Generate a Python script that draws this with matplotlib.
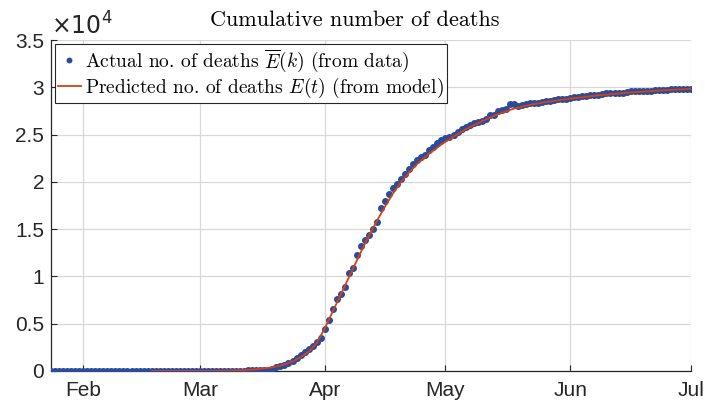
import matplotlib
matplotlib.use("Agg")
import matplotlib.pyplot as plt
import matplotlib.dates as mdates
from matplotlib.ticker import FuncFormatter
import numpy as np
import pandas as pd

plt.rcParams['mathtext.fontset'] = 'cm'
plt.rcParams['font.family'] = ['Liberation Sans', 'DejaVu Sans']

# daily cumulative deaths, 24 Jan 2020 .. 1 Jul 2020
start_date = '2020-01-24'
deaths_jan_feb = [0, 0, 0, 0, 0, 0, 0, 0,
                  0, 0, 0, 0, 0, 0, 0, 0, 0, 0, 0, 0, 0, 0,
                  1, 1, 1, 1, 1, 1, 1, 1, 1, 1, 1, 2, 2, 2, 2]
deaths_mar = [2, 3, 4, 4, 6, 9, 11, 19, 19, 33, 48, 48, 79, 91, 91, 149,
              149, 149, 244, 451, 563, 676, 862, 1102, 1333, 1698, 1997,
              2317, 2611, 3030, 3532]
deaths_apr = [4414, 5398, 6520, 7574, 8093, 8926, 10343, 10887, 12228, 13215,
              13851, 14412, 14986, 15748, 17188, 17941, 18703, 19345, 19744,
              20292, 20829, 21373, 21889, 22278, 22648, 22890, 23327, 23694,
              24121, 24410]
deaths_may = [24628, 24794, 24929, 25236, 25568, 25846, 26026, 26271, 26351,
              26421, 26684, 27032, 27115, 27466, 27570, 27667, 28239, 28242,
              28025, 28135, 28218, 28289, 28332, 28367, 28432, 28533, 28599,
              28665, 28714, 28771, 28802]
deaths_jun = [28836, 28943, 29024, 29068, 29114, 29145, 29158, 29213, 29322,
              29349, 29377, 29407, 29410, 29439, 29550, 29578, 29606, 29617,
              29636, 29640, 29643, 29666, 29702, 29733, 29755, 29781, 29781,
              29787, 29816, 29846]
deaths_jul = [29864]

# model curve
model_dates = ['2020-02-18', '2020-03-01', '2020-03-08', '2020-03-12', '2020-03-15',
               '2020-03-18', '2020-03-20', '2020-03-22', '2020-03-24', '2020-03-26',
               '2020-03-28', '2020-03-30', '2020-04-01', '2020-04-02', '2020-04-04',
               '2020-04-06', '2020-04-08', '2020-04-10', '2020-04-12', '2020-04-14',
               '2020-04-16', '2020-04-18', '2020-04-20', '2020-04-22', '2020-04-24',
               '2020-04-27', '2020-04-30', '2020-05-03', '2020-05-06', '2020-05-10',
               '2020-05-14', '2020-05-18', '2020-05-22', '2020-05-26', '2020-06-01',
               '2020-06-08', '2020-06-15', '2020-06-22', '2020-07-01']
model_vals = [0, 5, 40, 100, 190, 330, 480, 690, 1000, 1450, 2050, 2950, 4500,
              5400, 7200, 9000, 10800, 12600, 14300, 15900, 17400, 18800, 20000,
              21000, 21900, 23000, 23950, 24800, 25550, 26400, 27150, 27750,
              28150, 28450, 28800, 29150, 29420, 29630, 29830]

month_ticks = ['2020-02-01', '2020-03-01', '2020-04-01', '2020-05-01',
               '2020-06-01', '2020-07-01']

deaths = deaths_jan_feb + deaths_mar + deaths_apr + deaths_may + deaths_jun + deaths_jul
dates = pd.date_range(start_date, periods=len(deaths), freq='D')
mdt = pd.to_datetime(model_dates)

fig = plt.figure(figsize=(7.05, 4.09), dpi=100)
ax = fig.add_axes([51/705, 38/409, 640/705, 331/409])

ax.plot(dates, deaths, ls='none', marker='o', ms=4.0, color='#2b4c9b',
        label=r'Actual no. of deaths $\overline{E}(k)$ (from data)', zorder=3)
ax.plot(mdt, model_vals, color='#d9400f', lw=1.3,
        label=r'Predicted no. of deaths $E(t)$ (from model)', zorder=4)

ax.set_xlim(dates[0], dates[-1])
ax.set_ylim(0, 35000)
ax.set_yticks(np.arange(0, 35001, 5000))
ax.yaxis.set_major_formatter(FuncFormatter(lambda v, p: '%g' % (v / 1e4)))
ax.set_xticks(pd.to_datetime(month_ticks))
ax.xaxis.set_major_formatter(mdates.DateFormatter('%b'))

ax.grid(True, color='#d8d8d8', lw=0.9)
ax.set_axisbelow(True)
for s in ['top', 'right']:
    ax.spines[s].set_visible(False)
for s in ['left', 'bottom']:
    ax.spines[s].set_color('#262626')
    ax.spines[s].set_linewidth(0.9)
ax.tick_params(direction='in', length=4, width=0.8, colors='#262626',
               labelsize=15, labelcolor='#262626')
ax.tick_params(axis='x', pad=7)
ax.tick_params(axis='y', pad=5)

ax.text(0.0, 1.0, r'$\times10^4$', transform=ax.transAxes, fontsize=17,
        color='#262626', ha='left', va='bottom',
        math_fontfamily='dejavusans')

ax.set_title('Cumulative number of deaths', fontfamily='cmr10', fontsize=16,
             pad=10, x=0.474)

leg = ax.legend(loc='upper left', prop={'family': 'cmr10', 'size': 14},
                frameon=True, fancybox=False, framealpha=1, edgecolor='#262626',
                borderaxespad=0.2, handlelength=1.2, handletextpad=0.2,
                borderpad=0.15, labelspacing=0.1, markerscale=0.8)
leg.get_frame().set_linewidth(0.8)

fig.savefig('out.png', dpi=100)
